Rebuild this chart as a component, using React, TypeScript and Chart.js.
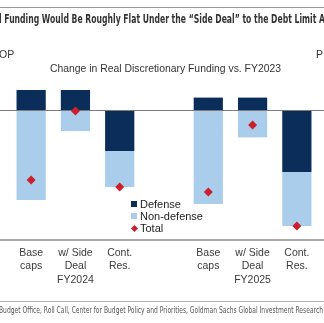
import React, { useEffect, useLayoutEffect, useRef } from "react";
import { Chart, registerables } from "chart.js";

Chart.register(...registerables);

// ---- data ----
const categories: string[][] = [
  ["Base", "caps"],
  ["w/ Side", "Deal", "FY2024"],
  ["Cont.", "Res."],
  [""],
  ["Base", "caps"],
  ["w/ Side", "Deal", "FY2025"],
  ["Cont.", "Res."],
];
const defense: (number | null)[] = [0.1, 0.1, -0.205, null, 0.062, 0.062, -0.31];
const nonDefense: (number | null)[] = [-0.45, -0.105, -0.18, null, -0.47, -0.137, -0.27];
const total: (number | null)[] = [-0.35, -0.005, -0.385, null, -0.41, -0.075, -0.58];
const seriesNames = ["Defense", "Non-defense", "Total"];
const titleText = "l Funding Would Be Roughly Flat Under the \u201cSide Deal\u201d to the Debt Limit A";
const subtitleText = "Change in Real Discretionary Funding vs. FY2023";
const axisLeftText = "OP";
const axisRightText = "P";
const sourceText =
  "Budget Office, Roll Call, Center for Budget Policy and Priorities, Goldman Sachs Global Investment Research";

const NAVY = "#0b2d59";
const LIGHT = "#a9cdeb";
const RED = "#cc1f2d";
const SANS = "'Liberation Sans', Arial, sans-serif";
const NARROW = "'Liberation Sans Narrow', 'DejaVu Sans Condensed', 'Liberation Sans', Arial, sans-serif";

function FitText(props: { text: string; left: number; top: number; width: number; style: React.CSSProperties }) {
  const ref = useRef<HTMLSpanElement>(null);
  useLayoutEffect(() => {
    const el = ref.current;
    if (!el) return;
    el.style.transform = "none";
    const w = el.getBoundingClientRect().width;
    if (w > 0) el.style.transform = `scaleX(${props.width / w})`;
  }, [props.text, props.width]);
  return (
    <span
      ref={ref}
      style={{
        position: "absolute",
        left: props.left,
        top: props.top,
        whiteSpace: "nowrap",
        transformOrigin: "0 0",
        ...props.style,
      }}
    >
      {props.text}
    </span>
  );
}

const lineLayer = {
  id: "lineLayer",
  afterDatasetDraw(chart: any, args: any) {
    if (args.meta.type !== "bar") return;
    const ctx = chart.ctx;
    const y = Math.round(chart.scales.y.getPixelForValue(0)) + 0.5;
    ctx.save();
    ctx.strokeStyle = "#7a7a7a";
    ctx.lineWidth = 1;
    ctx.beginPath();
    ctx.moveTo(0, y);
    ctx.lineTo(chart.width, y);
    ctx.stroke();
    ctx.restore();
  },
  afterDraw(chart: any) {
    const ctx = chart.ctx;
    const y = chart.chartArea.bottom;
    ctx.save();
    ctx.strokeStyle = "#8c8c8c";
    ctx.lineWidth = 1.5;
    ctx.beginPath();
    ctx.moveTo(0, y);
    ctx.lineTo(chart.width, y);
    ctx.stroke();
    ctx.restore();
  },
};

export default function App() {
  const canvasRef = useRef<HTMLCanvasElement>(null);

  useEffect(() => {
    if (!canvasRef.current) return;
    const chart = new Chart(canvasRef.current, {
      type: "bar",
      data: {
        labels: categories,
        datasets: [
          {
            type: "line",
            label: seriesNames[2],
            data: total,
            showLine: false,
            pointStyle: "rectRot",
            pointRadius: 4.5,
            pointBackgroundColor: RED,
            pointBorderColor: RED,
            pointBorderWidth: 0,
            borderColor: RED,
            backgroundColor: RED,
            stack: "total",
            order: 0,
          } as any,
          {
            type: "bar",
            label: seriesNames[0],
            data: defense,
            backgroundColor: NAVY,
            stack: "bars",
            order: 1,
            categoryPercentage: 1,
            barPercentage: 0.66,
          },
          {
            type: "bar",
            label: seriesNames[1],
            data: nonDefense,
            backgroundColor: LIGHT,
            stack: "bars",
            order: 1,
            categoryPercentage: 1,
            barPercentage: 0.66,
          },
        ],
      },
      options: {
        animation: false,
        responsive: false,
        maintainAspectRatio: false,
        layout: { padding: { top: 80, left: 9, right: 5, bottom: 23 } },
        plugins: {
          legend: { display: false },
          tooltip: { enabled: false },
          title: { display: false },
        },
        scales: {
          x: {
            stacked: true,
            offset: true,
            grid: { display: false, drawTicks: false },
            border: { display: false },
            afterFit: (scale: any) => {
              scale.height = 60;
            },
            ticks: {
              autoSkip: false,
              maxRotation: 0,
              padding: 6,
              color: "#3a3a3a",
              font: { family: SANS, size: 10.5, lineHeight: "13.5px" as any },
            },
          },
          y: {
            stacked: true,
            display: false,
            min: -0.65,
            max: 0.15,
          },
        },
      },
      plugins: [lineLayer],
    });
    return () => chart.destroy();
  }, []);

  const legendItems = [
    { name: seriesNames[0], color: NAVY, shape: "square", y: 204 },
    { name: seriesNames[1], color: LIGHT, shape: "square", y: 216 },
    { name: seriesNames[2], color: RED, shape: "diamond", y: 228 },
  ];

  return (
    <div
      style={{
        position: "fixed",
        left: 0,
        top: 0,
        width: 324,
        height: 323,
        background: "#fff",
        overflow: "hidden",
        fontFamily: SANS,
      }}
    >
      <canvas ref={canvasRef} width={324} height={323} style={{ position: "absolute", left: 0, top: 0 }} />
      <div style={{ position: "absolute", left: 0, top: 7, width: 324, height: 1, background: "#9a9a9a" }} />
      <FitText
        text={titleText}
        left={-1}
        top={12}
        width={326}
        style={{ fontFamily: NARROW, fontWeight: "bold", fontSize: 11.5, lineHeight: "14px", color: "#333" }}
      />
      <span style={{ position: "absolute", left: -1, top: 48, fontSize: 10.5, lineHeight: "12px", color: "#333" }}>
        {axisLeftText}
      </span>
      <span style={{ position: "absolute", left: 316, top: 48, fontSize: 10.5, lineHeight: "12px", color: "#333" }}>
        {axisRightText}
      </span>
      <FitText
        text={subtitleText}
        left={50}
        top={62}
        width={231}
        style={{ fontSize: 10.5, lineHeight: "12px", color: "#333" }}
      />
      {legendItems.map((it) => (
        <div key={it.name} style={{ position: "absolute", left: 131, top: it.y - 6, height: 12, display: "flex", alignItems: "center" }}>
          {it.shape === "square" ? (
            <span style={{ width: 6, height: 6, background: it.color, display: "inline-block", marginRight: 3 }} />
          ) : (
            <span
              style={{
                width: 5,
                height: 5,
                background: it.color,
                display: "inline-block",
                transform: "rotate(45deg)",
                marginLeft: 1,
                marginRight: 3,
              }}
            />
          )}
          <span style={{ fontSize: 11, lineHeight: "12px", color: "#222" }}>{it.name}</span>
        </div>
      ))}
      <div style={{ position: "absolute", left: 0, top: 301, width: 324, height: 1, background: "#b0b0b0" }} />
      <FitText
        text={sourceText}
        left={-1}
        top={306}
        width={324}
        style={{ fontFamily: NARROW, fontSize: 8, lineHeight: "10px", color: "#555" }}
      />
    </div>
  );
}
